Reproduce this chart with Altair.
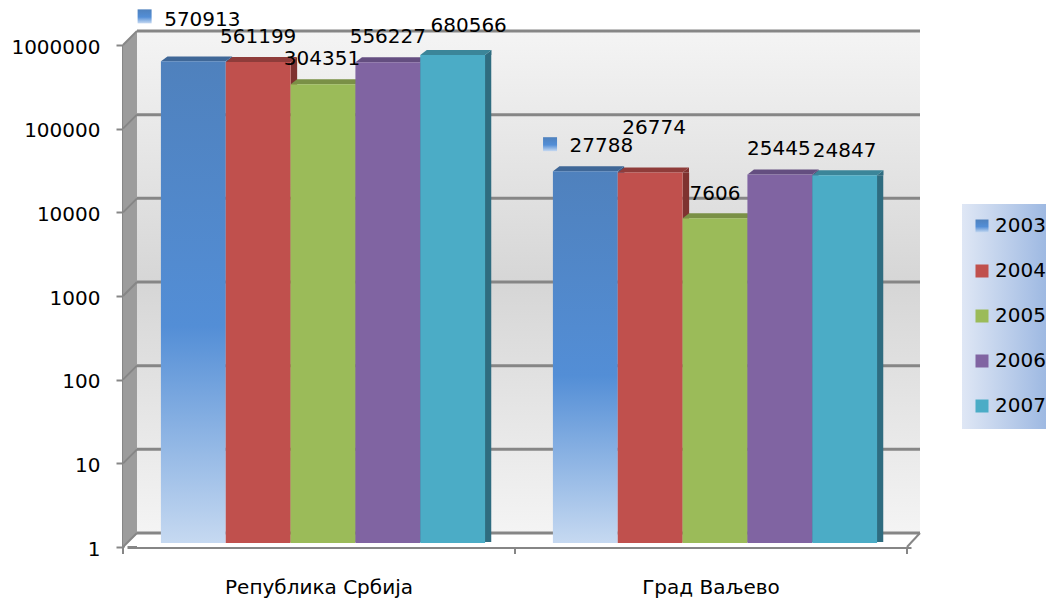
import altair as alt
import pandas as pd

# ---- data ----
regions = ["Република Србија", "Град Ваљево"]
years = ["2003", "2004", "2005", "2006", "2007"]
values_serbia = [570913, 561199, 304351, 556227, 680566]
values_valjevo = [27788, 26774, 7606, 25445, 24847]
decades = [1, 10, 100, 1000, 10000, 100000, 1000000]

# ---- style ----
FONT = "DejaVu Sans"
blue_grad_expr = ("{gradient:'linear',x1:0,y1:0,x2:0,y2:1,stops:["
                  "{offset:0,color:'#4f81bd'},{offset:0.55,color:'#538ed6'},{offset:1,color:'#c6d9f1'}]}")
front = ["#4f81bd", "#c0504d", "#9bbb59", "#8064a2", "#4bacc6"]
top_c = ["#3f6797", "#8f3c3a", "#7a9046", "#644e80", "#3b8599"]
side_c = ["#2f5a8c", "#7f3230", "#6b7f3c", "#553f70", "#2f6c80"]
# data-label nudges (dx, dy) in reading order
label_nudge = [(9, -45), (0, -29), (-1, -29), (0, -29), (16, -33),
               (16, -29), (4, -49), (0, -28), (-1, -29), (0, -28)]
category_tick_px = [0, 392, 784]

rows = []
for r, vals in zip(regions, [values_serbia, values_valjevo]):
    for i, (y, v) in enumerate(zip(years, vals)):
        rows.append(dict(region=r, year=y, value=v, base=1, top=top_c[i], side=side_c[i]))
df = pd.DataFrame(rows)
dummy = pd.DataFrame({"a": [0]})
dec_df = pd.DataFrame({"value": decades, "base": decades})

x_scale = alt.Scale(domain=regions, range=[4, 788], paddingInner=0.173, paddingOuter=0.0865)
y_scale = alt.Scale(type="log", domain=[1, 1000000], range=[502, 0])
xo_scale = alt.Scale(domain=years)
x_axis = alt.Axis(title=None, labelAngle=0, labelFontSize=20, labelFont=FONT, labelColor="#000000",
                  labelPadding=30, labelOffset=-4, labelLimit=400, domainColor="#868686", domainWidth=3,
                  ticks=False, grid=False)
X = alt.X("region:N", scale=x_scale, sort=regions, axis=x_axis)
XO = alt.XOffset("year:N", scale=xo_scale)
y_axis = alt.Axis(title=None, values=decades, format="d", labelFontSize=20, labelFont=FONT,
                  labelColor="#000000", labelPadding=16, labelOffset=2, domainColor="#868686", domainWidth=3,
                  tickColor="#868686", tickWidth=2, tickSize=7, grid=False)
Y = alt.Y("value:Q", scale=y_scale, axis=y_axis)

wall_grad = alt.Gradient(gradient="linear", x1=0, y1=0, x2=0, y2=1, stops=[
    alt.GradientStop(offset=0, color="#f4f4f4"), alt.GradientStop(offset=0.5, color="#d6d6d6"),
    alt.GradientStop(offset=1, color="#f4f4f4")])
legend_grad = alt.Gradient(gradient="linear", x1=0, y1=0, x2=1, y2=0, stops=[
    alt.GradientStop(offset=0, color="#dfe7f5"), alt.GradientStop(offset=1, color="#9eb9e2")])

back_wall = alt.Chart(dummy).mark_rect(fill=wall_grad).encode(
    x=alt.value(14), x2=alt.value(797), y=alt.value(-13), y2=alt.value(489))
floor = alt.Chart(dummy).mark_rect(fill="#ffffff").encode(
    x=alt.value(14), x2=alt.value(797), y=alt.value(489), y2=alt.value(502))
left_wall = alt.Chart(dummy).mark_point(
    shape="M-0.0271,-0.9457 L0.0271,-0.9961 L0.0271,0.9496 L-0.0271,1 Z",
    filled=True, opacity=1, size=516 ** 2, color="#9c9c9c"
).encode(x=alt.value(7), y=alt.value(244))
grid = alt.Chart(dec_df).mark_rule(color="#868686", strokeWidth=3, yOffset=-14).encode(
    x=alt.value(14), x2=alt.value(797), y=Y)
diag = alt.Chart(dec_df).mark_rule(color="#868686", strokeWidth=2, y2Offset=-14).encode(
    x=alt.value(0), x2=alt.value(14), y=Y, y2=alt.Y2("base:Q"))
right_edge = alt.Chart(dec_df[:1]).mark_rule(color="#868686", strokeWidth=2, y2Offset=-14).encode(
    x=alt.value(784), x2=alt.value(797), y=Y, y2=alt.Y2("base:Q"))
cat_ticks = [
    alt.Chart(dummy).mark_rule(color="#868686", strokeWidth=2).encode(
        x=alt.value(px), y=alt.value(502), y2=alt.value(509))
    for px in category_tick_px
]
legend_box = alt.Chart(dummy).mark_rect(fill=legend_grad).encode(
    x=alt.value(839), x2=alt.value(923), y=alt.value(159), y2=alt.value(384))

BW = 64.7
sides = []
for i, yr in enumerate(years):
    off = (i - 2) * BW + BW / 2 + 3.25
    sides.append(
        alt.Chart(df[df.year == yr]).mark_bar(width=6.5, xOffset=off, yOffset=-4, y2Offset=-5).encode(
            x=X, y=Y, y2=alt.Y2("base:Q"), color=alt.Color("side:N", scale=None)))
side_cap = alt.Chart(df).mark_point(
    shape="M1,0 L1.2,-0.154 L1.2,0 Z", filled=True, opacity=1, size=BW ** 2, yOffset=-4
).encode(x=X, xOffset=XO, y=Y, color=alt.Color("side:N", scale=None))
top = alt.Chart(df).mark_point(
    shape="M-1,0 L1,0 L1.2,-0.154 L-0.8,-0.154 Z", filled=True, opacity=1, size=BW ** 2, yOffset=-4
).encode(x=X, xOffset=XO, y=Y, color=alt.Color("top:N", scale=None))

color_scale = alt.Scale(domain=years, range=[alt.ExprRef(blue_grad_expr)] + front[1:])
bars = alt.Chart(df).mark_bar(yOffset=-4, y2Offset=-4, opacity=1).encode(
    x=X, xOffset=XO, y=Y, y2=alt.Y2("base:Q"),
    color=alt.Color("year:N", scale=color_scale, title=None,
                    legend=alt.Legend(orient="none", legendX=849, legendY=171, title=None, symbolType="square",
                                      symbolSize=169, symbolStrokeWidth=0, labelFontSize=20, labelFont=FONT,
                                      labelColor="#000000", rowPadding=25, padding=0, labelOffset=3)))

label_layers = []
for (_, row), (dx, dy) in zip(df.iterrows(), label_nudge):
    label_layers.append(
        alt.Chart(pd.DataFrame([row])).mark_text(
            dx=dx, dy=dy, font=FONT, fontSize=20, color="#000000", baseline="middle", align="center"
        ).encode(x=X, xOffset=XO, y=Y, text=alt.Text("value:Q", format="d")))

key_df = pd.DataFrame({"region": regions, "year": ["2003", "2003"], "value": [values_serbia[0], values_valjevo[0]]})
key_grad = alt.Gradient(gradient="linear", x1=0, y1=0, x2=0, y2=1, stops=[
    alt.GradientStop(offset=0, color="#4f81bd"), alt.GradientStop(offset=0.55, color="#538ed6"),
    alt.GradientStop(offset=1, color="#c6d9f1")])
def key_shape(d):
    return f"M{d-1},-1 L{d+1},-1 L{d+1},1 L{d-1},1 Z"
key1 = alt.Chart(key_df[:1]).mark_point(shape=key_shape(-6.96), filled=True, opacity=1, size=196, fill=key_grad,
                                        yOffset=-49).encode(x=X, xOffset=XO, y=Y)
key2 = alt.Chart(key_df[1:]).mark_point(shape=key_shape(-5.04), filled=True, opacity=1, size=196, fill=key_grad,
                                        yOffset=-31).encode(x=X, xOffset=XO, y=Y)

chart = alt.layer(
    back_wall, floor, left_wall, grid, diag, right_edge, legend_box,
    *sides, side_cap, top, bars, *label_layers, key1, key2, *cat_ticks
).properties(
    width=923, height=502, padding={"left": 115, "top": 37, "right": 0, "bottom": 55},
    autosize=alt.AutoSizeParams(type="none"), background="#ffffff"
).configure_view(stroke=None)

chart.save("out.html", embed_options={"renderer": "svg", "actions": False})
